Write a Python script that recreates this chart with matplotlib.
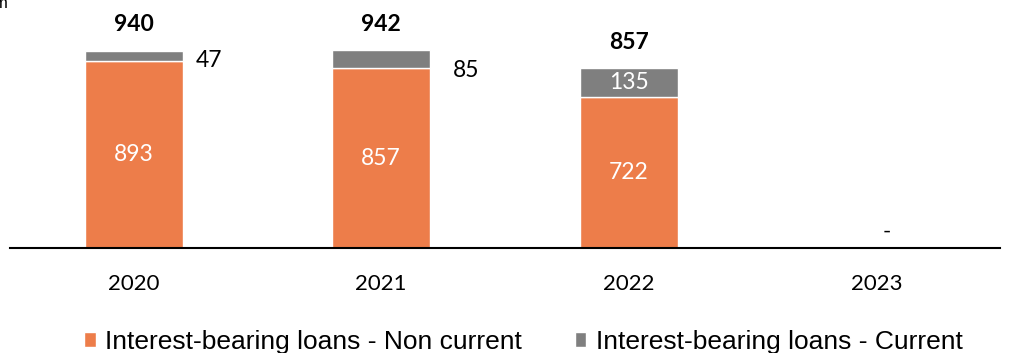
import numpy as np
import matplotlib.pyplot as plt

years = ["2020", "2021", "2022", "2023"]
non_current = [893, 857, 722, 0]
current = [47, 85, 135, 0]
totals = [940, 942, 857, 0]

orange = "#ED7D4A"
grey = "#7F7F7F"
num_font = ["Lato", "DejaVu Sans"]

# pixel nudges for the labels that sit beside the thin grey segments
side_offsets = {0: (26, 0), 1: (36, -2)}

fig = plt.figure(figsize=(10.1, 3.53), dpi=100)
ax = fig.add_axes([10 / 1010, 105 / 353, 990 / 1010, 238 / 353])

x = np.arange(len(years))
w = 0.395
b1 = ax.bar(x, non_current, w, color=orange, edgecolor="white", linewidth=1.0,
            label="Interest-bearing loans - Non current")
b2 = ax.bar(x, current, w, bottom=non_current, color=grey, edgecolor="white",
            linewidth=1.0, label="Interest-bearing loans - Current")

ax.set_xlim(-0.5, len(years) - 0.5)
ax.set_ylim(0, 1135)

for i in range(len(years)):
    nc, c, t = non_current[i], current[i], totals[i]
    if t == 0:
        ax.annotate("-", (x[i], 0), xytext=(10, 16), textcoords="offset pixels",
                    ha="center", va="center", fontsize=16, family=num_font)
        continue
    ax.text(x[i], nc / 2, f"{nc}", ha="center", va="center", color="white",
            fontsize=16.5, family=num_font)
    if c > 100:
        ax.text(x[i], nc + c / 2, f"{c}", ha="center", va="center",
                color="white", fontsize=16.5, family=num_font)
    else:
        ax.annotate(f"{c}", (x[i] + w / 2, nc), xytext=side_offsets.get(i, (28, 0)),
                    textcoords="offset pixels", ha="center", va="center",
                    fontsize=16.5, family=num_font)
    ax.annotate(f"{t}", (x[i], t), xytext=(0, 26), textcoords="offset pixels",
                ha="center", va="center", fontsize=16.5, fontweight="bold",
                family=num_font)

ax.set_xticks(x)
ax.set_xticklabels(years, fontsize=16, family=num_font)
ax.tick_params(axis="x", length=0, pad=19)
ax.set_yticks([])
for s in ["top", "left", "right"]:
    ax.spines[s].set_visible(False)
ax.spines["bottom"].set_linewidth(1.5)
ax.spines["bottom"].set_color("black")

fig.legend(handles=[b1, b2], loc="lower center", bbox_to_anchor=(0.518, -0.07),
           ncol=2, frameon=False, handlelength=0.45, handleheight=0.5,
           handletextpad=0.35, columnspacing=2.0,
           prop={"family": "Liberation Sans", "size": 19})

# unit label cut at the top-left corner
fig.text(0.008, 1.012, "m", ha="right", va="top", fontsize=12,
         family="Liberation Sans")

fig.savefig("out.png", dpi=100)
